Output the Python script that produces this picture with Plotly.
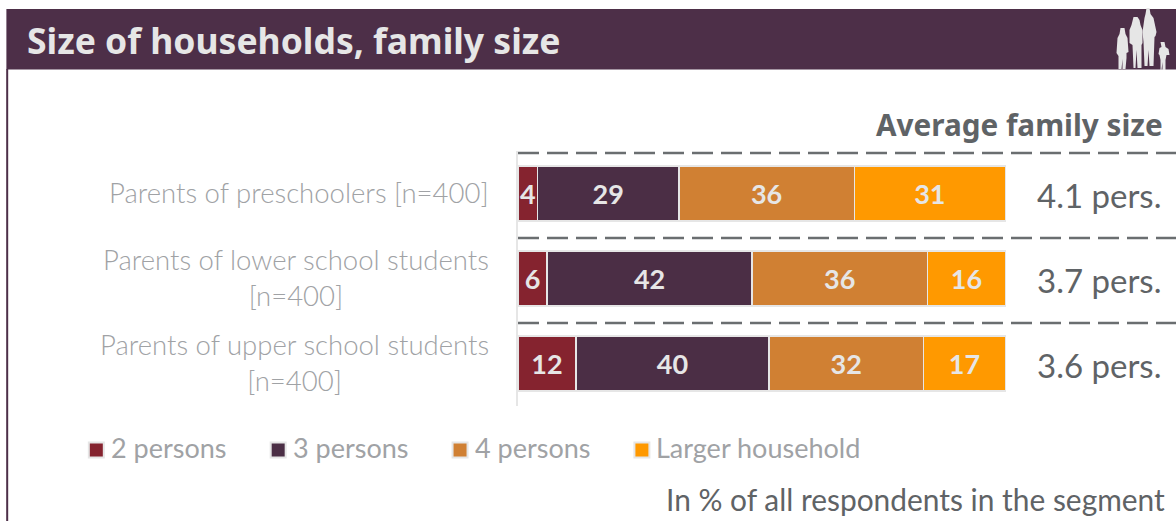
import plotly.graph_objects as go

# Survey results: household composition per parent segment, in percent
segments = ["Parents of preschoolers [n=400]",
            "Parents of lower school students<br>[n=400]",
            "Parents of upper school students<br>[n=400]"]
two_persons = [4, 6, 12]
three_persons = [29, 42, 40]
four_persons = [36, 36, 32]
larger_household = [31, 16, 17]
average_size = ["4.1 pers.", "3.7 pers.", "3.6 pers."]

series_names = ["2 persons", "3 persons", "4 persons", "Larger household"]
series_values = [two_persons, three_persons, four_persons, larger_household]
series_colors = ["#85232F", "#4B2E45", "#D08033", "#FF9900"]

W, H = 1176, 521
LEFT, TOP, BOTTOM = 517.5, 151, 406
PLOT_W, PLOT_H = W - LEFT, BOTTOM - TOP
PLUM = "#4D2F48"
LIGHT = "#E6E6E6"
LABEL_GREY = "#A0A2A5"
DARK_GREY = "#5F6366"
SANS = "Lato, 'Noto Sans', sans-serif"


def px(x):
    """Horizontal page pixel to paper fraction."""
    return (x - LEFT) / PLOT_W


def py(y):
    """Vertical page pixel to paper fraction."""
    return (BOTTOM - y) / PLOT_H


fig = go.Figure()
for name, values, color in zip(series_names, series_values, series_colors):
    fig.add_trace(go.Bar(
        name=name, y=segments, x=values, orientation="h", width=0.647,
        marker=dict(color=color, line=dict(color=LIGHT, width=1.5)),
        text=values, textposition="inside", insidetextanchor="middle",
        textangle=0, constraintext="none", cliponaxis=False,
        textfont=dict(family=SANS, size=27, color=LIGHT, weight="bold"),
        showlegend=False,
    ))

shapes = [
    # header band and the frame's left edge
    dict(type="rect", xref="paper", yref="paper", layer="below",
         x0=px(5.5), x1=1, y0=py(69.5), y1=py(9),
         fillcolor=PLUM, line=dict(width=0)),
    dict(type="line", xref="paper", yref="paper", layer="below",
         x0=px(6.3), x1=px(6.3), y0=py(521), y1=py(69),
         line=dict(color=PLUM, width=2)),
]
# dashed separators above each row
for y in [-0.476, 0.524, 1.524]:
    shapes.append(dict(type="line", xref="paper", yref="y", layer="below",
                       x0=0, x1=1, y0=y, y1=y,
                       line=dict(color="#6A6E70", width=2.5, dash="21px,8px")))

# family silhouette in the header, outlined in page pixels
family = [
    [(1120, 28), (1124, 28), (1125, 34), (1127, 38), (1128, 52), (1126, 53), (1126, 58), (1125, 69),
     (1122, 69), (1122, 59), (1121, 69), (1118, 69), (1118, 56), (1116, 53), (1117, 38), (1119, 34)],
    [(1133, 17), (1137, 17), (1139, 20), (1140, 25), (1142, 30), (1142, 43), (1141, 45), (1141, 68),
     (1137, 68), (1136, 50), (1135, 68), (1133, 68), (1132, 45), (1129, 43), (1129, 30), (1131, 25)],
    [(1146, 8), (1149, 8), (1150, 14), (1153, 18), (1156, 32), (1155, 36), (1154, 37), (1153, 66),
     (1149, 66), (1148, 50), (1147, 66), (1144, 66), (1143, 42), (1142, 32), (1144, 18), (1145, 14)],
    [(1160, 42), (1164, 42), (1165, 47), (1168, 49), (1169, 55), (1166, 55), (1165, 60), (1165, 70),
     (1162, 70), (1162, 62), (1161, 70), (1160, 70), (1160, 60), (1159, 55), (1158, 54), (1159, 48),
     (1161, 47)],
]
for outline in family:
    # pixel-sized paths measure y upward from the anchor
    path = "M" + " L".join(f"{x - LEFT},{TOP - y}" for x, y in outline) + " Z"
    shapes.append(dict(type="path", xref="paper", yref="paper", layer="above",
                       xsizemode="pixel", ysizemode="pixel", xanchor=0, yanchor=1,
                       path=path, fillcolor=LIGHT, line=dict(width=0)))

annotations = [
    dict(text="Size of households, family size", xref="paper", yref="paper",
         x=px(24), y=py(40), xanchor="left", yanchor="middle", showarrow=False,
         font=dict(family="'Noto Sans', sans-serif", size=35.5, color=LIGHT, weight="bold")),
    dict(text="Average family size", xref="paper", yref="paper",
         x=px(1165), y=py(125), xanchor="right", yanchor="middle", showarrow=False,
         font=dict(family="'Noto Sans', sans-serif", size=29.7, color=DARK_GREY, weight="bold")),
    dict(text="In % of all respondents in the segment", xref="paper", yref="paper",
         x=px(1167), y=py(499), xanchor="right", yanchor="middle", showarrow=False,
         font=dict(family=SANS, size=29.9, color=DARK_GREY)),
]
for segment, size in zip(segments, average_size):
    annotations.append(dict(text=segment, xref="paper", yref="y", x=px(490), y=segment,
                            yshift=1, xanchor="right", yanchor="middle", align="center", showarrow=False,
                            font=dict(family=SANS, size=27.5, color=LABEL_GREY, weight=300)))
    annotations.append(dict(text=size, xref="paper", yref="y", x=px(1162.5), y=segment,
                            yshift=-1.5, xanchor="right", yanchor="middle", showarrow=False,
                            font=dict(family=SANS, size=33, color=DARK_GREY)))

# legend row: one swatch and label per series, on an even pitch
for i, (name, color) in enumerate(zip(series_names, series_colors)):
    left = 87 + 182 * i
    shapes.append(dict(type="rect", xref="paper", yref="paper", layer="above",
                       x0=px(left + 1), x1=px(left + 16), y0=py(457.5), y1=py(442.5),
                       fillcolor=color, line=dict(color=LIGHT, width=2)))
    annotations.append(dict(text=name, xref="paper", yref="paper", x=px(left + 21), y=py(447.5),
                            xanchor="left", yanchor="middle", showarrow=False,
                            font=dict(family=SANS, size=27, color=LABEL_GREY)))

fig.update_layout(
    width=W, height=H, autosize=False, barmode="stack", barnorm="percent",
    margin=dict(l=LEFT, r=0, t=TOP, b=H - BOTTOM, pad=0),
    paper_bgcolor="white", plot_bgcolor="white",
    shapes=shapes, annotations=annotations, showlegend=False,
    xaxis=dict(range=[0, 135], showticklabels=False, showgrid=False, zeroline=False,
               showline=False, ticks=""),
    yaxis=dict(autorange=False, range=[2.5, -0.5], showticklabels=False, showgrid=False,
               zeroline=False, showline=True, linecolor=LIGHT, linewidth=2, ticks=""),
)

fig.write_html("out.html", config=dict(displayModeBar=False))
